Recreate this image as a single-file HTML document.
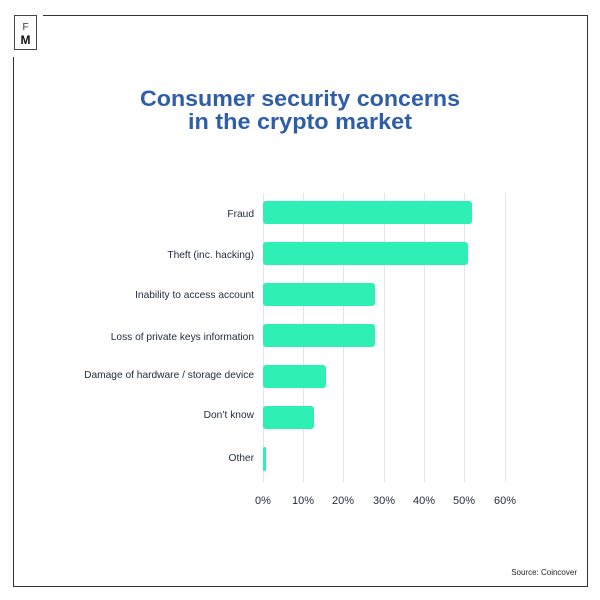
<!DOCTYPE html>
<html><head><style>
body{margin:0;background:#fff;font-family:"Liberation Sans",sans-serif;}
.c{position:relative;width:600px;height:600px;overflow:hidden;}
</style></head><body><div class="c">
<svg width="600" height="600" xmlns="http://www.w3.org/2000/svg" font-family="Liberation Sans, sans-serif">
<rect x="14.5" y="15.5" width="22" height="34" fill="none" stroke="#444" stroke-width="1"/>
<text x="25.5" y="30" font-size="10" text-anchor="middle" fill="#333">F</text>
<text x="25.5" y="44" font-size="12" font-weight="bold" text-anchor="middle" fill="#111">M</text>
<polyline points="43,15.5 587.5,15.5 587.5,586.5 13.5,586.5 13.5,57" fill="none" stroke="#333" stroke-width="1"/>
<text x="300" y="106" font-size="22" font-weight="bold" fill="#2f5ea8" text-anchor="middle" textLength="320" lengthAdjust="spacingAndGlyphs">Consumer security concerns</text>
<text x="300" y="129" font-size="22" font-weight="bold" fill="#2f5ea8" text-anchor="middle" textLength="224" lengthAdjust="spacingAndGlyphs">in the crypto market</text>
<g stroke="#e3e5ec" stroke-width="1">
<line x1="263.5" y1="193" x2="263.5" y2="482"/><line x1="303.5" y1="193" x2="303.5" y2="482"/><line x1="343.5" y1="193" x2="343.5" y2="482"/><line x1="384.5" y1="193" x2="384.5" y2="482"/><line x1="424.5" y1="193" x2="424.5" y2="482"/><line x1="464.5" y1="193" x2="464.5" y2="482"/><line x1="505.5" y1="193" x2="505.5" y2="482"/>
</g>
<g fill="#2ef0b4">
<rect x="263" y="201" width="209" height="23" rx="3"/>
<rect x="263" y="242" width="205" height="23" rx="3"/>
<rect x="263" y="283" width="112" height="23" rx="3"/>
<rect x="263" y="324" width="112" height="23" rx="3"/>
<rect x="263" y="365" width="63" height="23" rx="3"/>
<rect x="263" y="406" width="51" height="23" rx="3"/>
<rect x="263" y="447" width="3" height="24" rx="1.5"/>
</g>
<g font-size="10.2" fill="#1f2a3a" text-anchor="end">
<text x="254" y="217">Fraud</text>
<text x="254" y="258">Theft (inc. hacking)</text>
<text x="254" y="298">Inability to access account</text>
<text x="254" y="340">Loss of private keys information</text>
<text x="254" y="378">Damage of hardware / storage device</text>
<text x="254" y="418">Don’t know</text>
<text x="254" y="461">Other</text>
</g>
<g font-size="11" fill="#1f2a3a" text-anchor="middle">
<text x="263" y="504">0%</text><text x="303" y="504">10%</text><text x="343" y="504">20%</text><text x="384" y="504">30%</text><text x="424" y="504">40%</text><text x="464" y="504">50%</text><text x="505" y="504">60%</text>
</g>
<text x="577" y="575" font-size="8" fill="#222" text-anchor="end">Source: Coincover</text>
</svg>
</div></body></html>
